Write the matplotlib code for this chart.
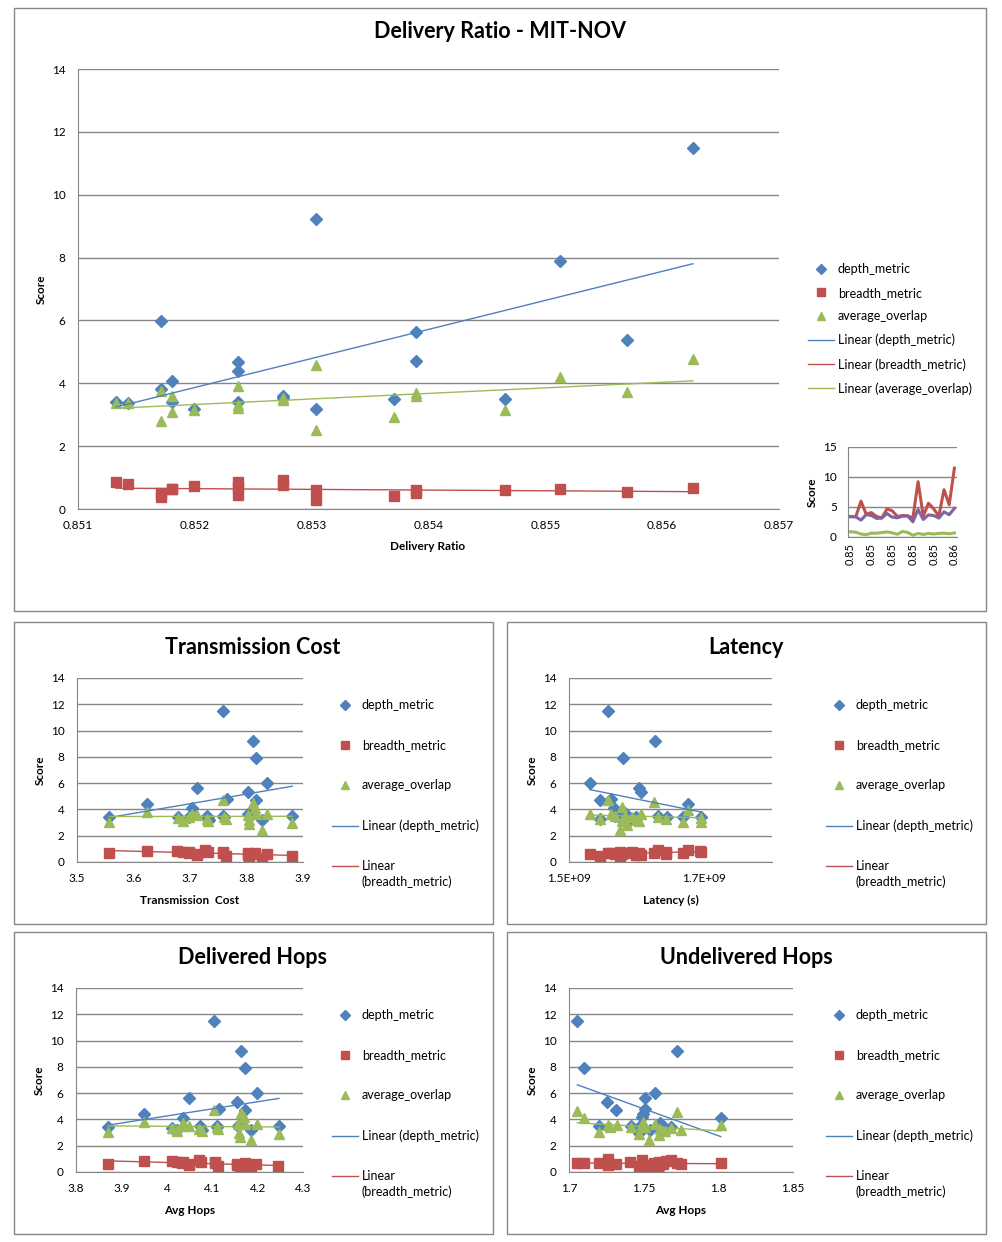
import numpy as np
import matplotlib
matplotlib.use('Agg')
import matplotlib.pyplot as plt
from matplotlib.patches import Rectangle
from matplotlib.lines import Line2D
from matplotlib.ticker import FuncFormatter, FormatStrFormatter

plt.rcParams['font.family'] = ['Lato', 'DejaVu Sans']

W, H = 1002, 1242
BLUE, RED, GREEN, PURPLE = '#4F81BD', '#C0504D', '#9BBB59', '#8064A2'
GRID = '#868686'

#%% data - delivery ratio (main chart + inset)
dr_x = [0.851325, 0.851424, 0.851714, 0.851714, 0.851808, 0.851808, 0.851992,
        0.852373, 0.852373, 0.852373, 0.852753, 0.852753, 0.853039, 0.853039,
        0.853706, 0.853890, 0.853890, 0.854651, 0.855129, 0.855698, 0.856263]
dr_depth = [3.42, 3.37, 5.98, 3.81, 4.07, 3.42, 3.17, 4.67, 4.38, 3.42, 3.58,
            3.52, 3.17, 9.22, 3.49, 5.63, 4.70, 3.49, 7.89, 5.37, 11.48]
dr_breadth = [0.87, 0.80, 0.50, 0.38, 0.64, 0.64, 0.73, 0.85, 0.70, 0.45, 0.92,
              0.76, 0.29, 0.60, 0.42, 0.60, 0.50, 0.60, 0.64, 0.54, 0.67]
dr_overlap = [3.37, 3.37, 2.81, 3.74, 3.58, 3.10, 3.15, 3.92, 3.31, 3.20, 3.47,
              3.52, 2.52, 4.59, 2.92, 3.68, 3.58, 3.15, 4.19, 3.72, 4.77]

#%% data - transmission cost
tc_depth_x = [3.557, 3.624, 3.678, 3.699, 3.703, 3.712, 3.730, 3.731, 3.733, 3.759,
              3.759, 3.760, 3.765, 3.803, 3.803, 3.811, 3.816, 3.816, 3.827, 3.837, 3.881]
tc_depth_y = [3.45, 4.39, 3.40, 3.42, 4.14, 5.61, 3.53, 3.37, 3.20, 11.47,
              3.53, 3.42, 4.77, 5.36, 3.66, 9.19, 7.89, 4.72, 3.20, 5.99, 3.50]
tc_breadth_x = [3.557, 3.624, 3.677, 3.688, 3.699, 3.699, 3.712, 3.712, 3.727, 3.731,
                3.759, 3.759, 3.763, 3.803, 3.803, 3.804, 3.815, 3.815, 3.827, 3.836, 3.880]
tc_breadth_y = [0.66, 0.86, 0.86, 0.79, 0.71, 0.75, 0.53, 0.60, 0.91, 0.79,
                0.79, 0.70, 0.48, 0.66, 0.55, 0.41, 0.71, 0.62, 0.28, 0.58, 0.48]
tc_overlap_x = [3.557, 3.624, 3.678, 3.688, 3.699, 3.703, 3.712, 3.730, 3.731, 3.759,
                3.760, 3.763, 3.803, 3.804, 3.805, 3.812, 3.815, 3.816, 3.827, 3.837, 3.881]
tc_overlap_y = [3.07, 3.83, 3.38, 3.15, 3.45, 3.66, 3.58, 3.27, 3.15, 4.72,
                3.45, 3.27, 3.58, 2.89, 3.20, 4.47, 4.09, 3.66, 2.44, 3.66, 2.94]

#%% data - latency
lat_depth_x = [1.5308e9, 1.5458e9, 1.5458e9, 1.5582e9, 1.5617e9, 1.5672e9, 1.5680e9,
               1.5741e9, 1.5791e9, 1.5831e9, 1.5860e9, 1.5990e9, 1.5990e9, 1.6040e9,
               1.6070e9, 1.6264e9, 1.6320e9, 1.6443e9, 1.6687e9, 1.6766e9, 1.6950e9]
lat_depth_y = [5.99, 4.72, 3.30, 11.47, 4.77, 4.14, 3.50, 3.45, 7.89, 3.70, 3.00,
               3.45, 3.30, 5.61, 5.36, 9.19, 3.53, 3.45, 3.45, 4.39, 3.45]
lat_breadth_x = [1.5308e9, 1.5458e9, 1.5582e9, 1.5617e9, 1.5680e9, 1.5756e9, 1.5756e9,
                 1.5790e9, 1.5840e9, 1.5930e9, 1.5990e9, 1.6030e9, 1.6070e9, 1.6260e9,
                 1.6320e9, 1.6440e9, 1.6440e9, 1.6680e9, 1.6760e9, 1.6940e9, 1.6950e9]
lat_breadth_y = [0.61, 0.48, 0.66, 0.70, 0.61, 0.79, 0.36, 0.60, 0.66, 0.79, 0.55,
                 0.66, 0.53, 0.66, 0.91, 0.79, 0.64, 0.66, 0.89, 0.84, 0.75]
lat_overlap_x = [1.5308e9, 1.5458e9, 1.5582e9, 1.5617e9, 1.5680e9, 1.5756e9, 1.5780e9,
                 1.5790e9, 1.5860e9, 1.5930e9, 1.5990e9, 1.6040e9, 1.6070e9, 1.6260e9,
                 1.6320e9, 1.6440e9, 1.6690e9, 1.6760e9, 1.6950e9, 1.6950e9, 1.5831e9]
lat_overlap_y = [3.66, 3.27, 4.72, 3.66, 3.53, 2.44, 4.16, 3.15, 2.82, 3.45, 3.20,
                 3.15, 3.66, 4.54, 3.45, 3.27, 3.07, 3.96, 3.38, 3.07, 3.50]

#%% data - delivered hops
dh_depth_x = [3.871, 3.950, 4.012, 4.023, 4.035, 4.049, 4.073, 4.077, 4.104, 4.111,
              4.115, 4.110, 4.155, 4.156, 4.161, 4.163, 4.172, 4.172, 4.186, 4.199, 4.247]
dh_depth_y = [3.45, 4.39, 3.38, 3.20, 4.14, 5.61, 3.53, 3.20, 11.47, 3.42,
              4.77, 3.53, 5.36, 3.50, 3.66, 9.19, 7.89, 4.72, 3.20, 5.99, 3.53]
dh_breadth_x = [3.870, 3.950, 4.011, 4.022, 4.033, 4.035, 4.049, 4.049, 4.072, 4.075,
                4.107, 4.107, 4.112, 4.155, 4.155, 4.161, 4.172, 4.172, 4.185, 4.197, 4.246]
dh_breadth_y = [0.63, 0.84, 0.84, 0.74, 0.71, 0.75, 0.53, 0.60, 0.91, 0.79,
                0.74, 0.70, 0.48, 0.58, 0.55, 0.36, 0.71, 0.62, 0.28, 0.58, 0.48]
dh_overlap_x = [3.871, 3.950, 4.012, 4.023, 4.034, 4.035, 4.049, 4.072, 4.077, 4.104,
                4.111, 4.113, 4.156, 4.159, 4.161, 4.163, 4.171, 4.172, 4.186, 4.199, 4.247]
dh_overlap_y = [3.07, 3.83, 3.38, 3.15, 3.53, 3.70, 3.53, 3.27, 3.15, 4.72,
                3.45, 3.27, 3.66, 2.94, 2.70, 4.47, 4.16, 3.66, 2.44, 3.66, 2.89]

#%% data - undelivered hops
uh_depth_x = [1.7056, 1.7100, 1.7199, 1.7257, 1.7317, 1.7413, 1.7467, 1.7473, 1.7489,
              1.7498, 1.7507, 1.7507, 1.7540, 1.7574, 1.7607, 1.7607, 1.7630, 1.7640,
              1.7685, 1.7723, 1.8016]
uh_depth_y = [11.47, 7.89, 3.53, 5.36, 4.72, 3.53, 3.00, 3.53, 4.21,
              4.45, 5.61, 4.77, 3.20, 5.99, 3.76, 3.30, 3.53, 3.20,
              3.45, 9.19, 4.14]
uh_breadth_x = [1.7056, 1.7100, 1.7199, 1.7261, 1.7261, 1.7317, 1.7410, 1.7467, 1.7491,
                1.7507, 1.7530, 1.7570, 1.7596, 1.7600, 1.7630, 1.7652, 1.7680, 1.7720,
                1.7750, 1.7600, 1.8016]
uh_breadth_y = [0.71, 0.71, 0.66, 0.96, 0.53, 0.58, 0.79, 0.48, 0.91,
                0.53, 0.28, 0.71, 0.36, 0.79, 0.60, 0.84, 0.91, 0.66,
                0.62, 0.55, 0.66]
uh_overlap_x = [1.7056, 1.7100, 1.7199, 1.7261, 1.7273, 1.7324, 1.7413, 1.7467, 1.7489,
                1.7496, 1.7507, 1.7536, 1.7574, 1.7603, 1.7607, 1.7630, 1.7640, 1.7685,
                1.7723, 1.7750, 1.8016]
uh_overlap_y = [4.67, 4.09, 3.07, 3.58, 3.45, 3.58, 3.45, 2.89, 3.60,
                3.83, 3.45, 2.44, 3.66, 2.82, 3.27, 3.10, 3.15, 3.32,
                4.54, 3.20, 3.58]


#%% helpers
def px_axes(fig, left, top, right, bottom):
    return fig.add_axes([left / W, 1 - bottom / H, (right - left) / W, (bottom - top) / H])


def fx(x, y):
    return x / W, 1 - y / H


def style_axes(ax, ymax, ystep, labelsize=8.5):
    ax.set_ylim(0, ymax)
    ax.set_yticks(np.arange(0, ymax + 0.1, ystep))
    ax.yaxis.grid(True, color=GRID, lw=1)
    ax.set_axisbelow(True)
    for s in ['top', 'right']:
        ax.spines[s].set_visible(False)
    for s in ['left', 'bottom']:
        ax.spines[s].set_color(GRID)
    ax.tick_params(length=0, labelsize=labelsize)
    ax.tick_params(axis='y', pad=9)
    ax.tick_params(axis='x', pad=8)


def trend(ax, x, y, color):
    x = np.asarray(x, dtype=float)
    y = np.asarray(y, dtype=float)
    x0 = x.mean()
    k, c = np.polyfit(x - x0, y, 1)
    xs = np.array([x.min(), x.max()])
    ax.plot(xs, k * (xs - x0) + c, color=color, lw=1)


def markers(ax, x, y, m, color, ms):
    ax.plot(x, y, m, color=color, mec=color, ms=ms, ls='none')


fig = plt.figure(figsize=(W / 100, H / 100), dpi=100)

# chart frames
for l, t, r, b in [(14, 8, 986, 611), (14, 622, 493, 924), (507, 622, 986, 924),
                   (14, 932, 493, 1234), (507, 932, 986, 1234)]:
    fig.add_artist(Rectangle(fx(l, b), (r - l) / W, (b - t) / H, transform=fig.transFigure,
                             fill=False, edgecolor=GRID, lw=1))

leg_handles = [Line2D([], [], marker='D', color=BLUE, ls='none', ms=5),
               Line2D([], [], marker='s', color=RED, ls='none', ms=5.5),
               Line2D([], [], marker='^', color=GREEN, ls='none', ms=6),
               Line2D([], [], color=BLUE, lw=1),
               Line2D([], [], color=RED, lw=1),
               Line2D([], [], color=GREEN, lw=1)]

#%% main chart - delivery ratio
ax = px_axes(fig, 78, 69, 779, 509)
style_axes(ax, 14, 2)
ax.set_xlim(0.851, 0.857)
ax.set_xticks(np.arange(0.851, 0.8571, 0.001))
ax.xaxis.set_major_formatter(FormatStrFormatter('%.3f'))
markers(ax, dr_x, dr_depth, 'D', BLUE, 6.5)
markers(ax, dr_x, dr_breadth, 's', RED, 7)
markers(ax, dr_x, dr_overlap, '^', GREEN, 7.5)
trend(ax, dr_x, dr_depth, BLUE)
trend(ax, dr_x, dr_breadth, RED)
trend(ax, dr_x, dr_overlap, GREEN)
fig.text(*fx(500, 32), 'Delivery Ratio - MIT-NOV', ha='center', va='center',
         fontsize=15.5, fontweight='bold')
fig.text(*fx(428, 547), 'Delivery Ratio', ha='center', va='center', fontsize=8.5, fontweight='bold')
fig.text(*fx(41, 289), 'Score', ha='center', va='center', rotation=90, fontsize=8.5, fontweight='bold')
ax.legend(leg_handles,
          ['depth_metric', 'breadth_metric', 'average_overlap', 'Linear (depth_metric)',
           'Linear (breadth_metric)', 'Linear (average_overlap)'],
          loc='upper left', bbox_to_anchor=fx(808, 263), bbox_transform=fig.transFigure,
          frameon=False, fontsize=9, handlelength=2.1, handletextpad=0.3,
          labelspacing=0.93, borderpad=0, borderaxespad=0)

# inset line chart
axi = px_axes(fig, 848, 447, 957, 537)
style_axes(axi, 15, 5, labelsize=8.5)
order = np.argsort(dr_x, kind='stable')
cats = np.arange(len(dr_x))
axi.plot(cats, np.array(dr_depth)[order], color=RED, lw=2.2)
axi.plot(cats, np.array(dr_overlap)[order], color=PURPLE, lw=2.2)
axi.plot(cats, np.array(dr_breadth)[order], color=GREEN, lw=2.2)
axi.set_xlim(-0.5, len(dr_x) - 0.5)
axi.set_xticks(cats[::4])
axi.set_xticklabels(['%.2f' % v for v in np.array(dr_x)[order][::4]], rotation=90)
axi.tick_params(axis='x', pad=4, labelsize=8)
axi.tick_params(axis='y', pad=8)
fig.text(*fx(812, 492), 'Score', ha='center', va='center', rotation=90, fontsize=8.5, fontweight='bold')

small_legends = []


#%% small panels
def small_panel(box, title, title_x, title_y, xlabel, xlim, xticks, fmt, leg_x, series):
    l, t, r, b = box
    a = px_axes(fig, l, t, r, b)
    style_axes(a, 14, 2)
    a.set_xlim(*xlim)
    a.set_xticks(xticks)
    a.xaxis.set_major_formatter(fmt)
    for (x, y, m, c, ms) in series:
        markers(a, x, y, m, c, ms)
    for (x, y, m, c, ms) in series:
        trend(a, x, y, c)
    fig.text(*fx(title_x, title_y), title, ha='center', va='center', fontsize=15.5, fontweight='bold')
    fig.text(*fx((l + r) / 2, b + 38), xlabel, ha='center', va='center', fontsize=8.5, fontweight='bold')
    fig.text(*fx(l - 37, (t + b) / 2), 'Score', ha='center', va='center', rotation=90,
             fontsize=8.5, fontweight='bold')
    leg = a.legend(leg_handles[:5],
                   ['depth_metric', 'breadth_metric', 'average_overlap', 'Linear (depth_metric)',
                    'Linear'],
                   loc='upper left', bbox_to_anchor=fx(leg_x, t + 21), bbox_transform=fig.transFigure,
                   frameon=False, fontsize=9, handlelength=2.1, handletextpad=0.3,
                   labelspacing=2.25, borderpad=0, borderaxespad=0)
    small_legends.append(leg)
    return a


fmt1 = FormatStrFormatter('%g')
small_panel((77, 678, 303, 862), 'Transmission Cost', 253, 647, 'Transmission  Cost',
            (3.5, 3.9), np.arange(3.5, 3.91, 0.1), fmt1, 332,
            [(tc_depth_x, tc_depth_y, 'D', BLUE, 6.5),
             (tc_breadth_x, tc_breadth_y, 's', RED, 7),
             (tc_overlap_x, tc_overlap_y, '^', GREEN, 7.5)])

lat_fmt = FuncFormatter(lambda v, p: '%.1fE+09' % (v / 1e9))
small_panel((569, 678, 772, 862), 'Latency', 746, 647, 'Latency (s)',
            (1.5e9, 1.8e9), [1.5e9, 1.7e9], lat_fmt, 826,
            [(lat_depth_x, lat_depth_y, 'D', BLUE, 6.5),
             (lat_breadth_x, lat_breadth_y, 's', RED, 7),
             (lat_overlap_x, lat_overlap_y, '^', GREEN, 7.5)])

small_panel((76, 988, 303, 1172), 'Delivered Hops', 253, 957, 'Avg Hops',
            (3.8, 4.3), np.arange(3.8, 4.31, 0.1), fmt1, 332,
            [(dh_depth_x, dh_depth_y, 'D', BLUE, 6.5),
             (dh_breadth_x, dh_breadth_y, 's', RED, 7),
             (dh_overlap_x, dh_overlap_y, '^', GREEN, 7.5)])

small_panel((569, 988, 793, 1172), 'Undelivered Hops', 746, 957, 'Avg Hops',
            (1.7, 1.85), [1.7, 1.75, 1.8, 1.85], fmt1, 826,
            [(uh_depth_x, uh_depth_y, 'D', BLUE, 6.5),
             (uh_breadth_x, uh_breadth_y, 's', RED, 7),
             (uh_overlap_x, uh_overlap_y, '^', GREEN, 7.5)])

# second line of the wrapped legend label, placed under "Linear"
fig.canvas.draw()
for leg in small_legends:
    bb = leg.get_texts()[4].get_window_extent()
    fig.text(bb.x0 / W, (bb.y0 - 16) / H, '(breadth_metric)', ha='left', va='bottom', fontsize=9)

plt.savefig('out.png', dpi=100)
